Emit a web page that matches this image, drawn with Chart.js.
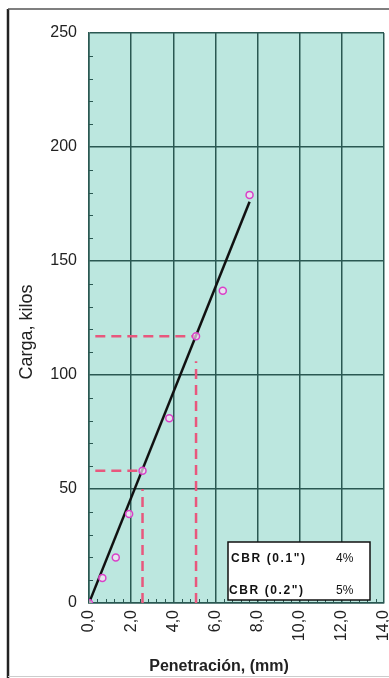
<!DOCTYPE html>
<html>
<head>
<meta charset="utf-8">
<script src="https://cdn.jsdelivr.net/npm/chart.js@4.4.1/dist/chart.umd.min.js"></script>
<style>
html,body{margin:0;padding:0;background:#fff;}
#wrap{position:relative;width:389px;height:678px;}
canvas{display:block;}
</style>
</head>
<body>
<div id="wrap"><canvas id="c" width="389" height="678"></canvas></div>
<script>
// ---- data ----
const penetration = [0, 0.635, 1.27, 1.905, 2.54, 3.81, 5.08, 6.35, 7.62];
const load = [0, 11, 20, 39, 58, 81, 117, 137, 179];
const fitX = [0, 7.62];
const fitY = [0, 176];
const ref1X = [0.3, 2.54];   // CBR 0.1" reference
const ref1Y = [58, 58];
const ref1VY = [0, 50];
const ref2X = [0.3, 5.08];   // CBR 0.2" reference
const ref2Y = [117, 117];
const ref2VY = [0, 106];
const xTicks = [0, 2, 4, 6, 8, 10, 12, 14];
const yTicks = [0, 50, 100, 150, 200, 250];
const cbrLabels = ['CBR (0.1")', 'CBR (0.2")'];
const cbrValues = ['4%', '5%'];
const xTitle = 'Penetración, (mm)';
const yTitle = 'Carga, kilos';

const pts = (xs, ys) => xs.map((x, i) => ({x: x, y: ys[i]}));
const dashColor = '#e8577d';
const gridColor = '#2a5852';

const bgPlugin = {
  id: 'bg',
  beforeDraw(chart) {
    const ctx = chart.ctx, a = chart.chartArea;
    ctx.save();
    ctx.fillStyle = '#fff';
    ctx.fillRect(0, 0, chart.width, chart.height);
    ctx.fillStyle = '#bce7df';
    ctx.fillRect(a.left, a.top, a.right - a.left, a.bottom - a.top);
    // outer frame
    ctx.strokeStyle = '#222';
    ctx.lineWidth = 2.5;
    ctx.beginPath(); ctx.moveTo(8, 9); ctx.lineTo(8, 678); ctx.stroke();
    ctx.strokeStyle = '#555';
    ctx.lineWidth = 1.5;
    ctx.beginPath(); ctx.moveTo(8, 9); ctx.lineTo(389, 9); ctx.stroke();
    ctx.strokeStyle = '#ccc';
    ctx.lineWidth = 1;
    ctx.beginPath(); ctx.moveTo(8, 676.5); ctx.lineTo(389, 676.5); ctx.stroke();
    ctx.restore();
  },
  afterDraw(chart) {
    const ctx = chart.ctx, a = chart.chartArea;
    const xs = chart.scales.x, ys = chart.scales.y;
    ctx.save();
    // minor ticks
    ctx.strokeStyle = gridColor;
    ctx.lineWidth = 1;
    ctx.beginPath();
    for (let v = 10; v < 250; v += 10) {
      if (v % 50 === 0) continue;
      const py = Math.round(ys.getPixelForValue(v)) + 0.5;
      ctx.moveTo(a.left, py); ctx.lineTo(a.left + 4, py);
    }
    for (let k = 1; k < 35; k++) {
      if (k % 5 === 0) continue;
      const px = Math.round(xs.getPixelForValue(k * 0.4)) + 0.5;
      ctx.moveTo(px, a.bottom); ctx.lineTo(px, a.bottom - 4);
    }
    ctx.stroke();
    // axis titles
    ctx.fillStyle = '#222';
    ctx.font = 'bold 16px "Liberation Sans", Arial, sans-serif';
    ctx.textAlign = 'center';
    ctx.textBaseline = 'middle';
    ctx.fillText(xTitle, 219, 667);
    ctx.save();
    ctx.translate(27, 332);
    ctx.rotate(-Math.PI / 2);
    ctx.font = '18px "Liberation Sans", Arial, sans-serif';
    ctx.fillText(yTitle, 0, 0);
    ctx.restore();
    // CBR box
    ctx.fillStyle = '#fff';
    ctx.fillRect(228, 542, 142, 58);
    ctx.strokeStyle = '#111';
    ctx.lineWidth = 1.5;
    ctx.strokeRect(228, 542, 142, 58);
    ctx.fillStyle = '#111';
    ctx.textAlign = 'left';
    ctx.font = 'bold 12px "Liberation Sans", Arial, sans-serif';
    if ('letterSpacing' in ctx) ctx.letterSpacing = '1.6px';
    ctx.fillText(cbrLabels[0], 231, 559);
    ctx.fillText(cbrLabels[1], 229, 591);
    if ('letterSpacing' in ctx) ctx.letterSpacing = '0px';
    ctx.font = '12px "Liberation Sans", Arial, sans-serif';
    ctx.fillText(cbrValues[0], 336, 559);
    ctx.fillText(cbrValues[1], 336, 591);
    ctx.restore();
  }
};

const dashDs = (data) => ({
  data: data, showLine: true, borderColor: dashColor, borderWidth: 2.5,
  borderDash: [10, 6], pointRadius: 0, fill: false, order: 3
});

new Chart(document.getElementById('c'), {
  type: 'scatter',
  data: {
    datasets: [
      {
        data: pts(penetration, load), showLine: false,
        pointRadius: 3.5, pointHoverRadius: 3.5, pointBorderWidth: 1.5,
        pointBorderColor: '#d940c8', pointBackgroundColor: 'rgba(250,225,245,0.7)', order: 0
      },
      {
        data: pts(fitX, fitY), showLine: true, borderColor: '#111', borderWidth: 2.5,
        pointRadius: 0, fill: false, order: 1
      },
      dashDs(pts(ref1X, ref1Y)),
      dashDs(pts([ref1X[1], ref1X[1]], ref1VY)),
      dashDs(pts(ref2X, ref2Y)),
      dashDs(pts([ref2X[1], ref2X[1]], ref2VY))
    ]
  },
  options: {
    responsive: false,
    animation: false,
    events: [],
    layout: {padding: {left: 0, top: 33, right: 5, bottom: 0}},
    plugins: {legend: {display: false}, tooltip: {enabled: false}},
    scales: {
      x: {
        type: 'linear', min: 0, max: 14,
        afterFit(s) { s.height = 75; s.paddingLeft = 0; s.paddingRight = 0; },
        afterBuildTicks(s) { s.ticks = xTicks.map(v => ({value: v})); },
        ticks: {
          minRotation: 90, maxRotation: 90, padding: 7,
          color: '#222',
          font: {size: 16, family: '"Liberation Sans", Arial, sans-serif'},
          callback: v => v.toFixed(1).replace('.', ',')
        },
        grid: {color: gridColor, lineWidth: 1.5, drawTicks: false},
        border: {display: true, color: gridColor, width: 1.5}
      },
      y: {
        type: 'linear', min: 0, max: 250,
        afterFit(s) { s.width = 89; s.paddingTop = 0; s.paddingBottom = 0; },
        afterBuildTicks(s) { s.ticks = yTicks.map(v => ({value: v})); },
        ticks: {
          padding: 12, color: '#222',
          font: {size: 16, family: '"Liberation Sans", Arial, sans-serif'}
        },
        grid: {color: gridColor, lineWidth: 1.5, drawTicks: false},
        border: {display: true, color: gridColor, width: 1.5}
      }
    }
  },
  plugins: [bgPlugin]
});
</script>
</body>
</html>
